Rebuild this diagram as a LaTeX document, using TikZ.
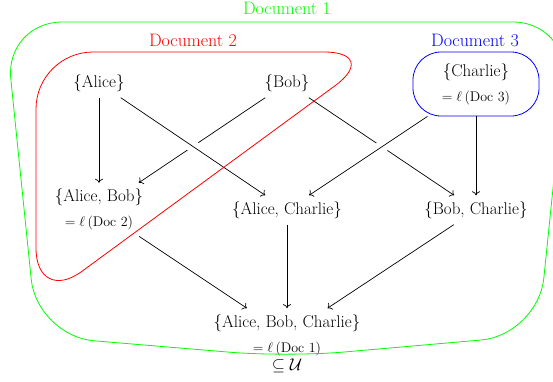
\documentclass[tikz,border=0pt]{standalone}
\usepackage{fix-cm}
\usepackage{fontspec}
\usetikzlibrary{arrows.meta}
\newcommand{\lof}[1]{{\fontsize{14}{16}\selectfont$=\ell\,(\mathrm{Doc}\ #1)$}}
\tikzset{
  lbl/.style={font=\fontsize{17}{25}\selectfont, inner sep=6pt, align=center},
  doclbl/.style={font=\fontsize{18}{22}\selectfont, inner sep=0pt},
  edge/.style={-{To[length=4pt,width=8pt]}, line width=0.7pt},
  gapper/.style={draw=white, line width=12pt, shorten <=25pt, shorten >=25pt},
  region/.style={line width=0.8pt, rounded corners=57pt},
}
\begin{document}
\begin{tikzpicture}[x=1pt,y=-1pt]
\useasboundingbox (0,0) rectangle (553,381);
% labels of documents
\node[doclbl, text=green] (d1) at (287,8) {Document 1};
\node[doclbl, text=red] (d2) at (193,40) {Document 2};
\node[doclbl, text=blue] (d3) at (475,40) {Document 3};
% nodes
\node[lbl] (a) at (99,83) {\{Alice\}};
\node[lbl] (b) at (287,83) {\{Bob\}};
\node[lbl, draw=blue, line width=0.8pt, rounded corners=28pt, minimum width=126pt, minimum height=64pt] (c) at (476,84) {\{Charlie\}\\\lof{3}};
\node[lbl] (ab) at (99,209.6) {\{Alice, Bob\}\\\lof{2}};
\node[lbl] (ac) at (287,210) {\{Alice, Charlie\}};
\node[lbl] (bc) at (476,210) {\{Bob, Charlie\}};
\node[lbl] (abc) at (287,335) {\{Alice, Bob, Charlie\}\\\lof{1}};
\node[lbl, inner sep=0pt] (sub) at (287,366) {$\subseteq\mathcal{U}$};
% edges
\draw[edge] (a) -- (ab);
\draw[edge] (b) -- (ab);
\draw[edge] (b) -- (bc);
\draw[edge] (c) -- (bc);
\draw[gapper] (a) -- (ac);
\draw[edge] (a) -- (ac);
\draw[gapper] (c) -- (ac);
\draw[edge] (c) -- (ac);
\draw[edge] (ab) -- (abc);
\draw[edge] (ac) -- (abc);
\draw[edge] (bc) -- (abc);
% regions
\draw[region, red] (200,52) -- (381,52) -- (36,305) -- (36,52) -- cycle;
\draw[region, green] (287,22) -- (570,22) -- (538,335) -- (287,357) -- (37,336) -- (5,22) -- cycle;
\end{tikzpicture}
\end{document}
